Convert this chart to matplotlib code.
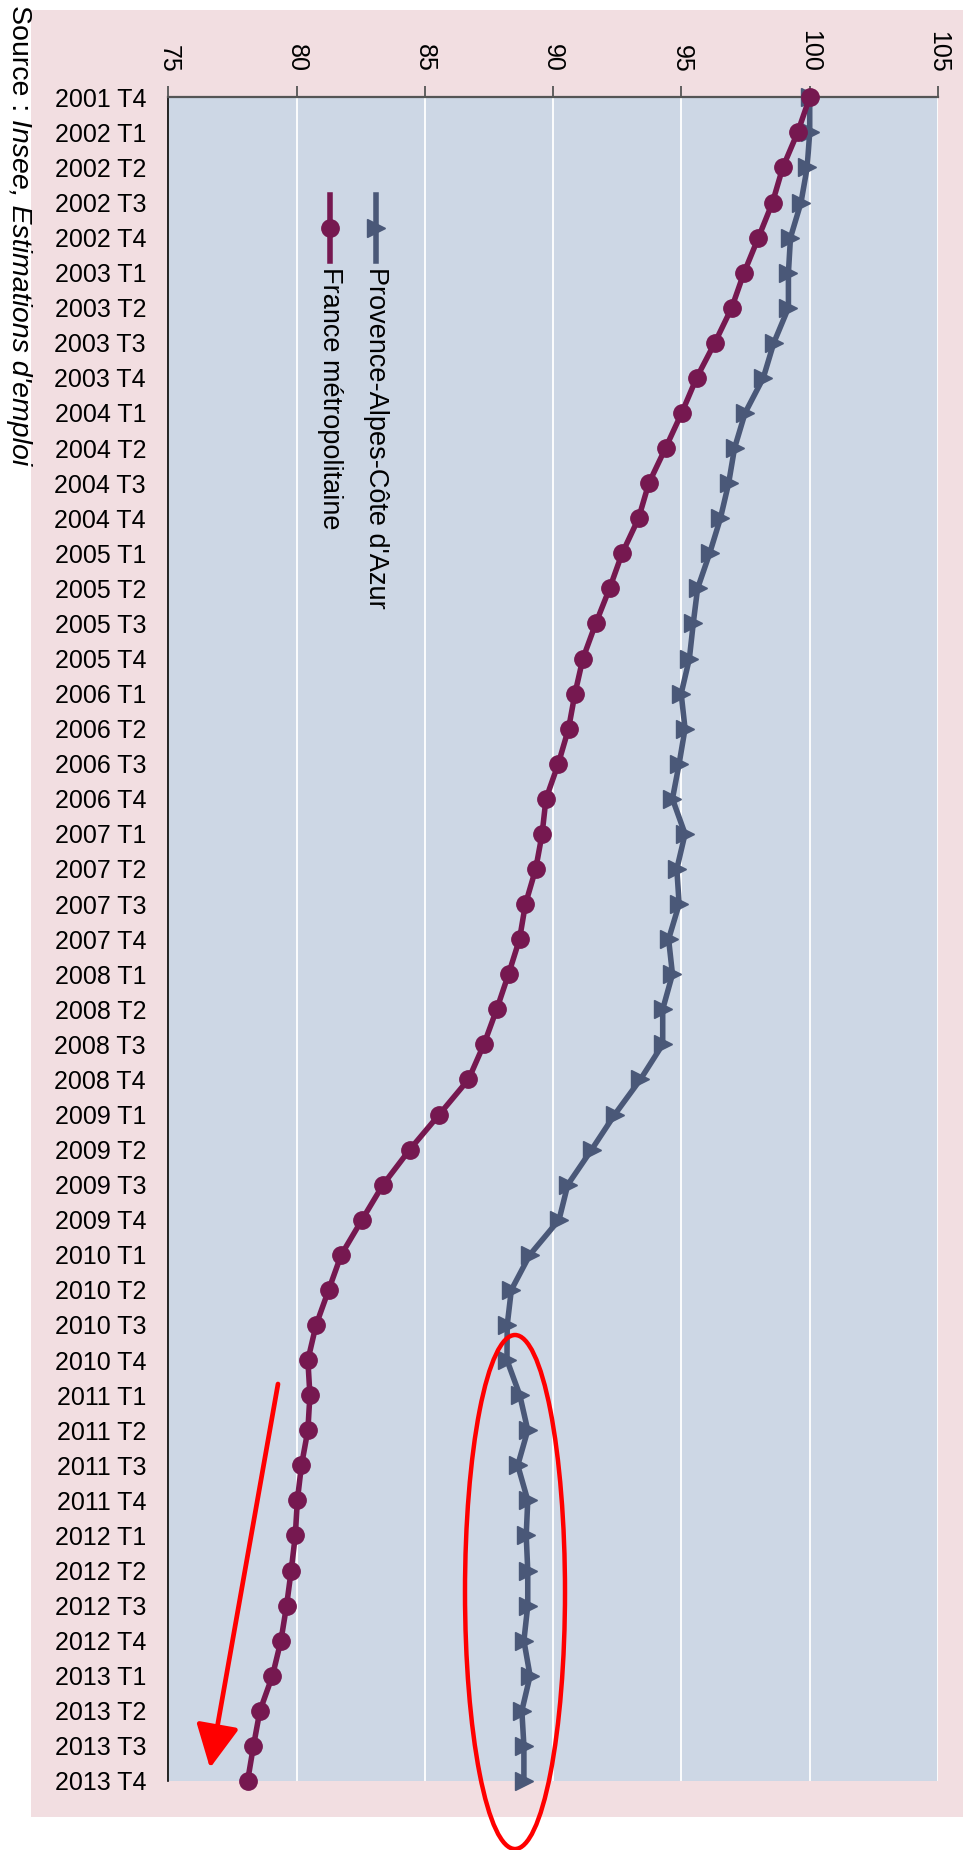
"""
Emploi salarié : Provence-Alpes-Côte d'Azur vs France métropolitaine
(base 100 au 2001 T4), graphique tourné d'un quart de tour.
"""
import matplotlib
matplotlib.use("Agg")
import matplotlib.pyplot as plt
from matplotlib.patches import Rectangle, Ellipse, FancyArrowPatch
import numpy as np

plt.rcParams['font.family'] = ['Liberation Sans', 'DejaVu Sans']

quarters = [f"{y} T{q}" for y in range(2001, 2014) for q in range(1, 5)][3:]

france = [100.0, 99.53, 98.95, 98.55, 98.0, 97.44, 96.96, 96.3, 95.59, 95.01,
          94.38, 93.73, 93.33, 92.69, 92.2, 91.66, 91.16, 90.85, 90.6, 90.2,
          89.72, 89.57, 89.32, 88.92, 88.69, 88.26, 87.8, 87.3, 86.7, 85.56,
          84.41, 83.37, 82.55, 81.74, 81.25, 80.76, 80.44, 80.52, 80.44, 80.19,
          80.03, 79.95, 79.79, 79.61, 79.39, 79.06, 78.57, 78.32, 78.09]

paca = [100.0, 100.0, 99.9, 99.66, 99.25, 99.17, 99.17, 98.6, 98.19, 97.48,
        97.07, 96.84, 96.52, 96.1, 95.63, 95.46, 95.31, 94.99, 95.14, 94.91,
        94.65, 95.14, 94.82, 94.91, 94.5, 94.65, 94.27, 94.27, 93.4, 92.4,
        91.5, 90.57, 90.23, 89.09, 88.37, 88.21, 88.2, 88.7, 89.01, 88.62,
        89.01, 88.95, 89.01, 89.01, 88.86, 89.1, 88.78, 88.86, 88.86]

series_names = ["Provence-Alpes-Côte d'Azur", "France métropolitaine"]
value_ticks = [75, 80, 85, 90, 95, 100, 105]

PINK = '#F2DEE1'
PLOT_BG = '#CDD7E5'
PURPLE = '#761850'
SLATE = '#4A5878'
RED = '#FF0000'
LW = 4.0

W, H = 963, 1850
fig = plt.figure(figsize=(W / 100, H / 100), dpi=100)
fig.patch.set_facecolor('white')
bg = Rectangle((31 / W, 1 - 1817 / H), 1 - 31 / W, (1817 - 10) / H,
               transform=fig.transFigure, facecolor=PINK, edgecolor='none')
bg.set_zorder(-5)
fig.add_artist(bg)

ax = fig.add_axes([168.3 / W, 1 - 1781 / H, (938 - 168.3) / W, (1781 - 97.3) / H])
ax.set_zorder(1)
ax.set_facecolor(PLOT_BG)
pos = np.arange(len(quarters))

ax.plot(paca, pos, color=SLATE, lw=LW, marker='>', ms=13.5, clip_on=False, zorder=3)
ax.plot(france, pos, color=PURPLE, lw=LW, marker='o', ms=12.5, clip_on=False, zorder=4)

ax.set_xlim(75, 105)
ax.set_ylim(len(quarters) - 1, 0)

# axe des valeurs en haut, libellés tournés
ax.xaxis.tick_top()
ax.set_xticks(value_ticks)
ax.set_xticklabels([str(v) for v in value_ticks], rotation=-90, fontsize=18)
ax.tick_params(axis='x', length=8, width=1.3, color='#555555', pad=10)

ax.set_yticks(pos)
ax.set_yticklabels(quarters, fontsize=18)
ax.set_yticks(pos[::4], minor=True)
ax.tick_params(axis='y', which='major', length=0, pad=16)
ax.tick_params(axis='y', which='minor', length=8, width=1.3, color='#555555')

for s in ['right', 'bottom']:
    ax.spines[s].set_visible(False)
ax.spines['top'].set_color('#555555')
ax.spines['top'].set_linewidth(1.6)
ax.spines['left'].set_color('black')
ax.spines['left'].set_linewidth(1.2)

ax.set_axisbelow(True)
ax.grid(axis='x', which='major', color='white', lw=1.3)
ax.grid(axis='y', which='minor', color='white', lw=1.3)

# légende dessinée à la main (verticale)
ax.add_patch(Rectangle((0.183, 0.66), 0.112, 0.309, transform=ax.transAxes,
                       facecolor=PLOT_BG, edgecolor='none', zorder=1))
for xk, col, mk, ms, name in [(0.270, SLATE, '>', 13.5, series_names[0]),
                              (0.210, PURPLE, 'o', 12.5, series_names[1])]:
    ax.plot([xk, xk], [0.942, 0.903], transform=ax.transAxes, color=col, lw=LW,
            zorder=3)
    ax.plot([xk], [0.9225], transform=ax.transAxes, color=col, marker=mk, ms=ms,
            zorder=3)
    ax.text(xk, 0.899, name, transform=ax.transAxes, rotation=-90, ha='center',
            va='top', fontsize=19.5)

# source, tournée
src = fig.text(19 / W, 1 - 5 / H, "Source : ", rotation=-90, ha='center', va='top',
               fontsize=20.5)
ax.annotate("Insee, Estimations d'emploi", xy=(0.5, 0), xycoords=src,
            rotation=-90, ha='center', va='top', fontsize=20.5, style='italic',
            annotation_clip=False)

# annotations rouges
fig.add_artist(Ellipse((515 / W, 1 - 1592 / H), 100 / W, 514 / H,
                       transform=fig.transFigure, fill=False, edgecolor=RED,
                       lw=3.2, zorder=10))
fig.add_artist(FancyArrowPatch((278 / W, 1 - 1384 / H), (210 / W, 1 - 1768 / H),
                               transform=fig.transFigure, color=RED, lw=3.4,
                               arrowstyle='-|>,head_length=1.2,head_width=0.6',
                               mutation_scale=22, shrinkA=0, shrinkB=0, zorder=10))

fig.savefig('out.png', dpi=100)
